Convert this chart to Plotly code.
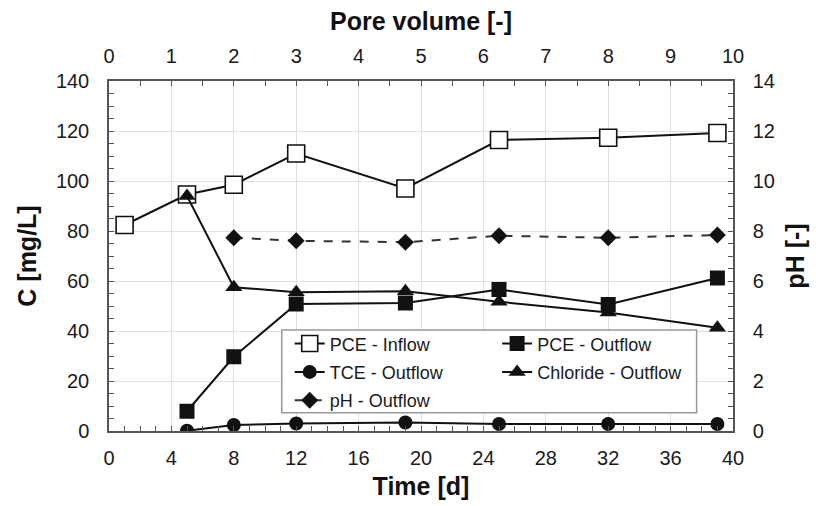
import plotly.graph_objects as go

# Data
pce_in_t = [1, 5, 8, 12, 19, 25, 32, 39]
pce_in = [82.4, 94.6, 98.5, 111.0, 97.0, 116.4, 117.3, 119.2]

out_t = [5, 8, 12, 19, 25, 32, 39]
pce_out = [7.9, 29.7, 50.8, 51.2, 56.6, 50.6, 61.2]
tce_out = [0.1, 2.4, 3.0, 3.4, 2.8, 2.8, 2.8]
chloride_out = [94.0, 57.5, 55.5, 55.9, 51.7, 47.4, 41.3]

ph_t = [8, 12, 19, 25, 32, 39]
ph_out = [7.73, 7.61, 7.55, 7.81, 7.73, 7.84]

FONT = "Liberation Sans, Arial, sans-serif"
BLACK = "#111111"
AXC = "#555555"
GRID = "#e0e0e0"

fig = go.Figure()

fig.add_trace(go.Scatter(
    x=pce_in_t, y=pce_in, name="PCE - Inflow", mode="lines+markers",
    line=dict(color=BLACK, width=2),
    marker=dict(symbol="square", size=17, color="white", line=dict(color=BLACK, width=1.6)),
    legend="legend", legendgroup="a", legendrank=1))
fig.add_trace(go.Scatter(
    x=out_t, y=pce_out, name="PCE - Outflow", mode="lines+markers",
    line=dict(color=BLACK, width=2),
    marker=dict(symbol="square", size=15, color=BLACK),
    legend="legend2", legendgroup="b", legendrank=1))
fig.add_trace(go.Scatter(
    x=out_t, y=tce_out, name="TCE - Outflow", mode="lines+markers",
    line=dict(color=BLACK, width=2),
    marker=dict(symbol="circle", size=14, color=BLACK),
    legend="legend", legendgroup="c", legendrank=2))
fig.add_trace(go.Scatter(
    x=out_t, y=chloride_out, name="Chloride - Outflow", mode="lines+markers",
    line=dict(color=BLACK, width=2),
    marker=dict(symbol="triangle-up", size=15, color=BLACK),
    legend="legend2", legendgroup="d", legendrank=2))
fig.add_trace(go.Scatter(
    x=ph_t, y=ph_out, name="pH - Outflow", mode="lines+markers",
    line=dict(color="#333333", width=2, dash="dash"),
    marker=dict(symbol="diamond", size=13, color=BLACK),
    yaxis="y2", legend="legend", legendgroup="e", legendrank=3))
# invisible trace to activate top axis
fig.add_trace(go.Scatter(x=[0, 10], y=[None, None], xaxis="x2", showlegend=False,
                         hoverinfo="skip"))

tickfont = dict(family=FONT, size=20, color="#1a1a1a")
titlefont = dict(family=FONT, size=25, color="#111111", weight="bold")
common = dict(showline=True, linecolor=AXC, linewidth=1.5, ticks="inside", automargin=False,
              ticklen=5, tickcolor=AXC, tickwidth=1, tickfont=tickfont, zeroline=False)

fig.update_layout(
    width=818, height=506,
    margin=dict(l=109, r=85, t=81, b=75),
    plot_bgcolor="white", paper_bgcolor="white",
    font=dict(family=FONT),
    xaxis=dict(range=[0, 40], dtick=4, tick0=0, showgrid=True, gridcolor=GRID, gridwidth=1,
               minor=dict(dtick=1, ticks="inside", ticklen=5, tickcolor=AXC, showgrid=False),
               title=dict(text="Time [d]", font=titlefont, standoff=10),
               ticklabelstandoff=8, **common),
    xaxis2=dict(range=[0, 10], dtick=1, tick0=0, overlaying="x", side="top", showgrid=False,
                minor=dict(dtick=0.5, ticks="inside", ticklen=5, tickcolor=AXC),
                title=dict(text="Pore volume [-]", font=titlefont, standoff=8),
                ticklabelstandoff=8, anchor="y", **common),
    yaxis=dict(range=[0, 140], dtick=20, tick0=0, showgrid=True, gridcolor=GRID, gridwidth=1,
               minor=dict(dtick=5, ticks="inside", ticklen=5, tickcolor=AXC, showgrid=False),
               title=dict(text="C [mg/L]", font=titlefont, standoff=12),
               ticklabelstandoff=14, **common),
    yaxis2=dict(range=[0, 14], dtick=2, tick0=0, overlaying="y", side="right", showgrid=False,
                minor=dict(dtick=0.5, ticks="inside", ticklen=5, tickcolor=AXC),
                title=dict(text="pH [-]", font=titlefont, standoff=12),
                ticklabelstandoff=14, anchor="x", **common),
    legend=dict(x=0.2896, y=0.302, xanchor="left", yanchor="top", bgcolor="rgba(0,0,0,0)",
                borderwidth=0, font=dict(family=FONT, size=18, color="#1a1a1a"),
                tracegroupgap=2, traceorder="grouped"),
    legend2=dict(x=0.622, y=0.302, xanchor="left", yanchor="top", bgcolor="rgba(0,0,0,0)",
                 borderwidth=0, font=dict(family=FONT, size=18, color="#1a1a1a"),
                 tracegroupgap=2, traceorder="grouped"),
    shapes=[dict(type="rect", xref="paper", yref="paper", x0=0.2768, x1=0.9417,
                 y0=0.0523, y1=0.2886, fillcolor="white", line=dict(color="#999999", width=1.5),
                 layer="above")],
    showlegend=True,
)

fig.write_html("out.html")
